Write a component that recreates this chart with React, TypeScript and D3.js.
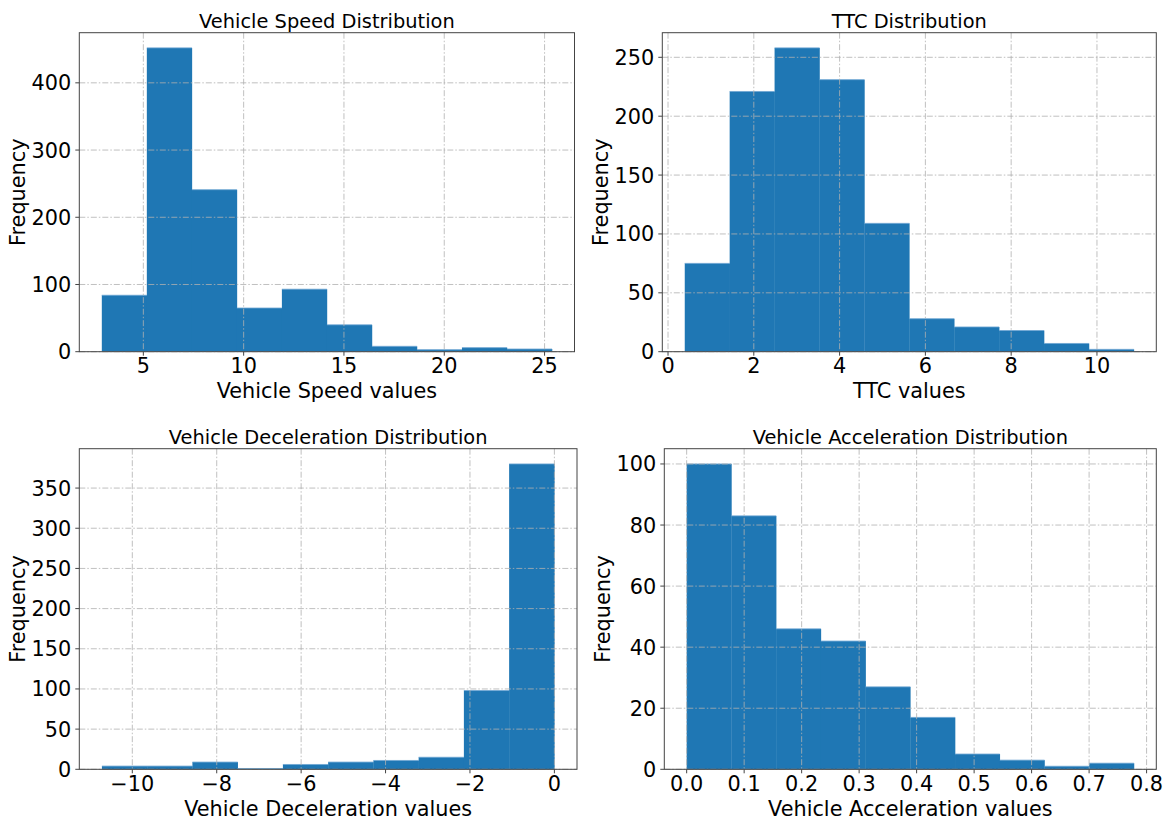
import React from 'react';
import * as d3 from 'd3';

// histogram bin edges and counts
const speedEdges = [2.93, 5.174, 7.418, 9.662, 11.906, 14.15, 16.394, 18.638, 20.882, 23.126, 25.37];
const speedCounts = [84, 452, 241, 65, 93, 40, 8, 3, 6, 4];
const speedTicks = [5, 10, 15, 20, 25];
const speedYTicks = [0, 100, 200, 300, 400];

const ttcEdges = [0.39, 1.437, 2.484, 3.531, 4.578, 5.625, 6.672, 7.719, 8.766, 9.813, 10.86];
const ttcCounts = [75, 221, 258, 231, 109, 28, 21, 18, 7, 2];
const ttcTicks = [0, 2, 4, 6, 8, 10];
const ttcYTicks = [0, 50, 100, 150, 200, 250];

const decelEdges = [-10.72, -9.648, -8.576, -7.504, -6.432, -5.36, -4.288, -3.216, -2.144, -1.072, 0];
const decelCounts = [4, 4, 9, 1, 6, 9, 11, 15, 98, 380];
const decelTicks = [-10, -8, -6, -4, -2, 0];
const decelYTicks = [0, 50, 100, 150, 200, 250, 300, 350];

const accelEdges = [0, 0.0778, 0.1556, 0.2334, 0.3112, 0.389, 0.4668, 0.5446, 0.6224, 0.7002, 0.778];
const accelCounts = [100, 83, 46, 42, 27, 17, 5, 3, 1, 2];
const accelTicks = [0, 0.1, 0.2, 0.3, 0.4, 0.5, 0.6, 0.7, 0.8];
const accelYTicks = [0, 20, 40, 60, 80, 100];

const FONT = 'DejaVu Sans, sans-serif';
const BLUE = '#1f77b4';

type Panel = {
  title: string;
  xlabel: string;
  edges: number[];
  counts: number[];
  xticks: number[];
  yticks: number[];
  fmt: (v: number) => string;
  box: { left: number; right: number; top: number; bottom: number };
};

const minusFmt = (v: number) => (v < 0 ? '\u2212' + Math.abs(v) : String(v));

const panels: Panel[] = [
  {
    title: 'Vehicle Speed Distribution', xlabel: 'Vehicle Speed values',
    edges: speedEdges, counts: speedCounts, xticks: speedTicks, yticks: speedYTicks,
    fmt: minusFmt, box: { left: 79.3, right: 574.5, top: 32.7, bottom: 351.7 },
  },
  {
    title: 'TTC Distribution', xlabel: 'TTC values',
    edges: ttcEdges, counts: ttcCounts, xticks: ttcTicks, yticks: ttcYTicks,
    fmt: minusFmt, box: { left: 662.3, right: 1156.3, top: 32.7, bottom: 351.7 },
  },
  {
    title: 'Vehicle Deceleration Distribution', xlabel: 'Vehicle Deceleration values',
    edges: decelEdges, counts: decelCounts, xticks: decelTicks, yticks: decelYTicks,
    fmt: minusFmt, box: { left: 79.3, right: 577, top: 448.7, bottom: 769.3 },
  },
  {
    title: 'Vehicle Acceleration Distribution', xlabel: 'Vehicle Acceleration values',
    edges: accelEdges, counts: accelCounts, xticks: accelTicks, yticks: accelYTicks,
    fmt: d3.format('.1f'), box: { left: 664.3, right: 1156.3, top: 448.7, bottom: 769.3 },
  },
];

function Hist({ p }: { p: Panel }) {
  const { left, right, top, bottom } = p.box;
  const lo = p.edges[0];
  const hi = p.edges[p.edges.length - 1];
  const pad = (hi - lo) * 0.05;
  const x = d3.scaleLinear().domain([lo - pad, hi + pad]).range([left, right]);
  const ymax = d3.max(p.counts)! * 1.05;
  const y = d3.scaleLinear().domain([0, ymax]).range([bottom, top]);
  const bins = p.counts.map((c, i) => ({ x0: p.edges[i], x1: p.edges[i + 1], c }));

  return (
    <g>
      {bins.map((b, i) => (
        <rect key={i} x={x(b.x0)} y={y(b.c)} width={x(b.x1) - x(b.x0) + 0.3} height={y(0) - y(b.c)}
          fill={BLUE} />
      ))}
      {/* light top edge on each bar */}
      {bins.map((b, i) => (
        <line key={'e' + i} x1={x(b.x0)} x2={x(b.x1)} y1={y(b.c)} y2={y(b.c)}
          stroke="#6ea6d3" strokeWidth={0.8} />
      ))}
      {/* grid drawn above bars */}
      {p.xticks.map(t => (
        <line key={'gx' + t} x1={x(t)} x2={x(t)} y1={top} y2={bottom}
          stroke="#b0b0b0" strokeOpacity={0.8} strokeWidth={1} strokeDasharray="6,2,1.5,2" />
      ))}
      {p.yticks.map(t => (
        <line key={'gy' + t} x1={left} x2={right} y1={y(t)} y2={y(t)}
          stroke="#b0b0b0" strokeOpacity={0.8} strokeWidth={1} strokeDasharray="6,2,1.5,2" />
      ))}
      <rect x={left} y={top} width={right - left} height={bottom - top} fill="none" stroke="#444" strokeWidth={1} />
      {p.xticks.map(t => (
        <g key={'tx' + t}>
          <line x1={x(t)} x2={x(t)} y1={bottom} y2={bottom + 4} stroke="#444" />
          <text x={x(t)} y={bottom + 21.6} textAnchor="middle" fontSize={20.8} fontFamily={FONT} fill="#000">{p.fmt(t)}</text>
        </g>
      ))}
      {p.yticks.map(t => (
        <g key={'ty' + t}>
          <line x1={left - 4} x2={left} y1={y(t)} y2={y(t)} stroke="#444" />
          <text x={left - 8} y={y(t)} dy="0.36em" textAnchor="end" fontSize={20.8} fontFamily={FONT} fill="#000">{t}</text>
        </g>
      ))}
      <text x={(left + right) / 2} y={top - 4.5} textAnchor="middle" fontSize={19.4} fontFamily={FONT} fill="#000">{p.title}</text>
      <text x={(left + right) / 2} y={bottom + 46.6} textAnchor="middle" fontSize={20.8} fontFamily={FONT} fill="#000">{p.xlabel}</text>
      <text transform={`translate(${left - 54},${(top + bottom) / 2}) rotate(-90)`} textAnchor="middle"
        fontSize={20.8} fontFamily={FONT} fill="#000">Frequency</text>
    </g>
  );
}

export default function App() {
  return (
    <svg width={1168} height={820} style={{ position: 'absolute', left: 0, top: 0, background: '#fff' }}>
      <rect width={1168} height={820} fill="#fff" />
      {panels.map(p => <Hist key={p.title} p={p} />)}
    </svg>
  );
}
